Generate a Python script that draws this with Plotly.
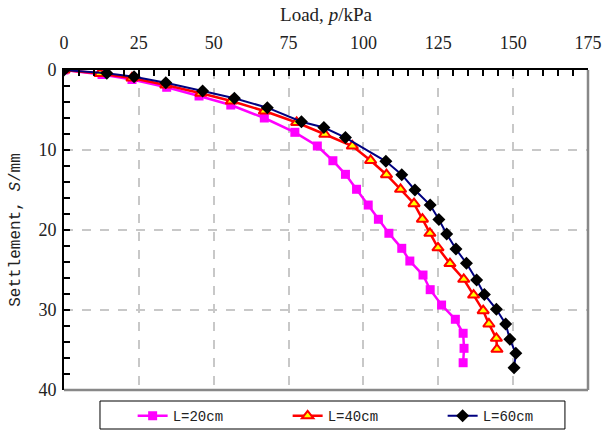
import plotly.graph_objects as go

# Load p (kPa) and settlement S (mm)
p_20 = [0, 12.7, 22.7, 34.3, 45.1, 55.7, 66.9, 77.1, 84.6, 89.8, 94.0, 97.7, 101.6, 105.0,
        108.5, 112.8, 115.5, 119.9, 122.3, 126.1, 130.7, 133.3, 133.6, 133.3]
s_20 = [0, 0.56, 1.19, 2.16, 3.25, 4.38, 6.0, 7.79, 9.5, 11.34, 13.04, 14.91, 16.88, 18.66,
        20.41, 22.29, 23.88, 25.63, 27.46, 29.38, 31.16, 32.91, 34.79, 36.59]

p_40 = [0, 12.0, 22.7, 34.0, 45.7, 55.9, 66.9, 77.7, 87.1, 96.3, 102.4, 107.7, 112.4, 116.9,
        119.7, 122.2, 124.9, 128.9, 133.5, 136.8, 140.0, 141.9, 144.4, 144.6]
s_40 = [0, 0.44, 1.0, 1.88, 2.91, 3.88, 5.13, 6.56, 8.03, 9.5, 11.31, 13.09, 14.91, 16.71,
        18.65, 20.41, 22.23, 24.2, 26.16, 28.13, 30.09, 31.75, 33.54, 34.91]

p_60 = [0, 14.3, 23.4, 34.0, 46.3, 56.9, 67.9, 79.3, 86.8, 94.0, 107.5, 112.8, 117.2, 122.3,
        125.2, 127.8, 130.9, 134.4, 137.8, 140.4, 144.4, 147.5, 148.9, 150.9, 150.3]
s_60 = [0, 0.41, 0.84, 1.59, 2.63, 3.54, 4.71, 6.46, 7.19, 8.44, 11.41, 13.08, 15.0, 16.88,
        18.7, 20.5, 22.38, 24.16, 26.25, 28.06, 29.91, 31.75, 33.66, 35.41, 37.21]

names = ["L=20cm", "L=40cm", "L=60cm"]
x_ticks = [0, 25, 50, 75, 100, 125, 150, 175]
y_ticks = [0, 10, 20, 30, 40]

fig = go.Figure()
fig.add_trace(go.Scatter(
    x=p_20, y=s_20, name=names[0], mode="lines+markers",
    line=dict(color="#FF00FF", width=2.5),
    marker=dict(symbol="square", size=9, color="#FF00FF"),
))
fig.add_trace(go.Scatter(
    x=p_40, y=s_40, name=names[1], mode="lines+markers",
    line=dict(color="#FF0000", width=2.5),
    marker=dict(symbol="triangle-up", size=10, color="#FFFF00",
                line=dict(color="#FF0000", width=2)),
))
fig.add_trace(go.Scatter(
    x=p_60, y=s_60, name=names[2], mode="lines+markers",
    line=dict(color="#000080", width=2),
    marker=dict(symbol="diamond", size=10, color="#000000"),
))

grid = dict(showgrid=True, gridcolor="#C8C8C8", gridwidth=1.5, griddash="dash")

fig.update_xaxes(
    side="top", range=[0, 175], tickvals=x_ticks, ticktext=[str(v) for v in x_ticks],
    ticks="inside", ticklen=6, tickwidth=1.5, tickcolor="black",
    minor=dict(dtick=5, ticks="inside", ticklen=6, tickwidth=1.5, tickcolor="black", showgrid=False),
    showline=True, linecolor="black", linewidth=2, automargin=False,
    ticklabelstandoff=12,
    tickfont=dict(family="Liberation Serif", size=18, color="#222"),
    title=dict(text="Load, <i>p</i>/kPa", font=dict(family="Liberation Serif", size=19, color="#222"),
               standoff=6),
    zeroline=False, **grid,
)
fig.update_yaxes(
    range=[40, 0], tickvals=y_ticks, ticktext=[str(v) for v in y_ticks],
    ticks="inside", ticklen=6, tickwidth=1.5, tickcolor="black",
    minor=dict(dtick=2, ticks="inside", ticklen=6, tickwidth=1.5, tickcolor="black", showgrid=False),
    showline=True, linecolor="black", linewidth=2, automargin=False,
    ticklabelstandoff=2,
    tickfont=dict(family="Liberation Serif", size=18, color="#222"),
    title=dict(text="Settlement, <i>S</i>/mm", font=dict(family="Liberation Mono", size=16, color="#222"),
               standoff=14),
    zeroline=False, **grid,
)

fig.add_shape(type="line", xref="paper", yref="paper", x0=1, x1=1, y0=0, y1=1,
              line=dict(color="#888888", width=2.5))
fig.add_shape(type="line", xref="paper", yref="paper", x0=0, x1=1, y0=0, y1=0,
              line=dict(color="#888888", width=2.5))
# legend frame
fig.add_shape(type="rect", xref="paper", yref="paper",
              x0=0.0687, x1=0.956, y0=-0.1219, y1=-0.0344,
              line=dict(color="black", width=1), fillcolor="white", layer="below")

fig.update_layout(
    width=604, height=432,
    margin=dict(l=64, r=16, t=70, b=42, autoexpand=False),
    paper_bgcolor="white", plot_bgcolor="white",
    showlegend=True,
    legend=dict(
        orientation="h", x=0.131, y=-0.032, xanchor="left", yanchor="top",
        borderwidth=0, bgcolor="rgba(0,0,0,0)",
        entrywidth=110, entrywidthmode="pixels",
        font=dict(family="Liberation Mono", size=14, color="#222"),
    ),
)

fig.write_html("out.html", config={"displayModeBar": False},
               post_script="document.body.style.margin='0px';")
